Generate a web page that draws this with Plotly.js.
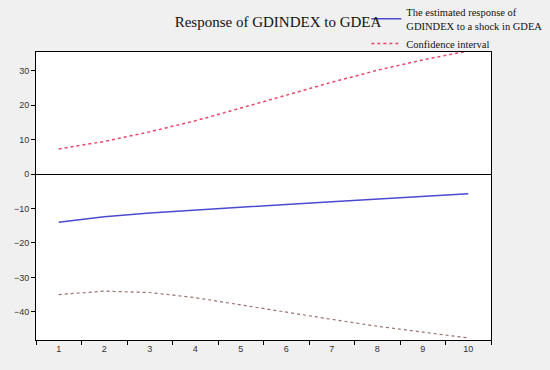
<!DOCTYPE html>
<html><head><meta charset="utf-8">
<script src="https://cdn.plot.ly/plotly-3.0.1.min.js"></script>
<style>html,body{margin:0;padding:0;background:#f0f0f0;}</style>
</head><body>
<div id="chart" style="width:550px;height:370px;"></div>
<script>
const periods = ['1','2','3','4','5','6','7','8','9','10'];
const response = [-14.0, -12.4, -11.3, -10.4, -9.6, -8.8, -8.0, -7.3, -6.5, -5.7];
const upperCI = [7.3, 9.5, 12.3, 15.5, 19.2, 23.0, 26.7, 30.2, 33.2, 35.8];
const lowerCI = [-35.0, -34.0, -34.4, -35.9, -38.0, -40.2, -42.2, -44.2, -46.0, -47.6];
const legendResponse = 'The estimated response of<br>GDINDEX to a shock in GDEA';
const legendCI = 'Confidence interval';
const titleText = 'Response of GDINDEX to GDEA';

const traces = [
  {x: periods, y: response, type: 'scatter', mode: 'lines', name: legendResponse,
   line: {color: '#4a4ad0', width: 1.5}},
  {x: periods, y: upperCI, type: 'scatter', mode: 'lines', name: legendCI,
   line: {color: '#e8466a', width: 1.5, dash: 'dot'}},
  {x: periods, y: lowerCI, type: 'scatter', mode: 'lines', name: legendCI, showlegend: false,
   line: {color: '#9a7070', width: 1.2, dash: 'dot'}}
];

const layout = {
  width: 550, height: 370,
  margin: {l: 36, r: 59, t: 52, b: 30, autoexpand: false},
  paper_bgcolor: '#f0f0f0', plot_bgcolor: '#ffffff',
  title: {text: titleText, font: {family: 'Liberation Serif, Times New Roman, serif', size: 15, color: '#111'},
          x: 278/550, xanchor: 'center', y: 1 - 22/370, yanchor: 'middle'},
  xaxis: {type: 'category', range: [-0.5, 9.5], tickson: 'boundaries', ticks: 'outside', ticklen: 4, tickcolor: '#000',
          showgrid: false, zeroline: false, showline: true, linecolor: '#000', linewidth: 1, mirror: true,
          tickfont: {family: 'Liberation Sans, Arial, sans-serif', size: 9, color: '#333'}},
  yaxis: {range: [-48.2, 35.5], tickvals: [-40, -30, -20, -10, 0, 10, 20, 30], ticks: 'outside', ticklen: 4,
          tickcolor: '#000', showgrid: false, zeroline: true, zerolinecolor: '#000', zerolinewidth: 1,
          showline: true, linecolor: '#000', linewidth: 1, mirror: true,
          tickfont: {family: 'Liberation Sans, Arial, sans-serif', size: 9, color: '#333'}},
  showlegend: true,
  legend: {x: 0.726, y: 1.185, xanchor: 'left', yanchor: 'top', bgcolor: 'rgba(0,0,0,0)',
           font: {family: 'Liberation Serif, Times New Roman, serif', size: 10.5, color: '#111'},
           tracegroupgap: 0, itemwidth: 30}
};

Plotly.newPlot('chart', traces, layout, {displayModeBar: false, staticPlot: true});
</script>
</body></html>
